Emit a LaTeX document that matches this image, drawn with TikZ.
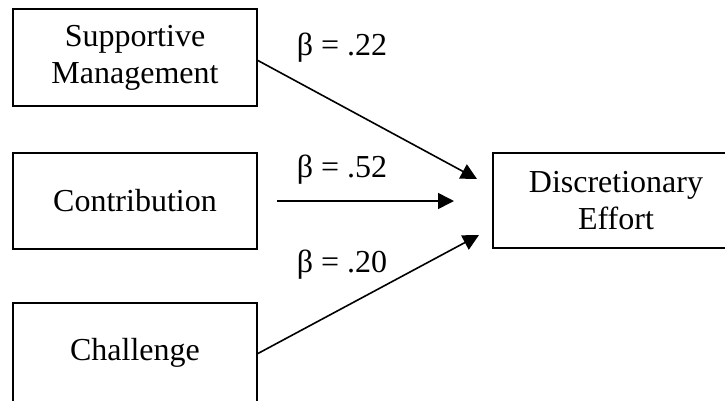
\documentclass[tikz,border=0pt]{standalone}
\usepackage{fontspec}
\setmainfont{Liberation Serif}
\usetikzlibrary{arrows.meta}
\begin{document}
\begin{tikzpicture}[x=1pt,y=-1pt,
  box/.style={draw=black,line width=1.8pt,rectangle,align=center,inner sep=0pt,
    font=\fontsize{32}{37}\selectfont},
  lbl/.style={font=\fontsize{32}{37}\selectfont,inner sep=0pt},
  conn/.style={line width=1.6pt,-{Triangle[length=16pt,width=16pt]}}]
\clip (0,0) rectangle (725,400);
\node[box,minimum width=244pt,minimum height=97pt] (b1) at (135,57.5) {Supportive\\Management};
\node[box,minimum width=244pt,minimum height=96pt] (b2) at (135,201) {Contribution};
\node[box,minimum width=244pt,minimum height=100pt] (b3) at (135,353) {Challenge};
\node[box,minimum width=246pt,minimum height=95pt] (b4) at (616,200.5) {Discretionary\\Effort};
\coordinate (s1) at (257,60);
\coordinate (t1) at (477,179);
\coordinate (s2) at (277,201);
\coordinate (t2) at (454,201);
\coordinate (s3) at (257,354);
\coordinate (t3) at (479,235);
\draw[conn] (s1) -- (t1);
\draw[conn] (s2) -- (t2);
\draw[conn] (s3) -- (t3);
\node[lbl] (l1) at (342,48) {β = .22};
\node[lbl] (l2) at (342,170) {β = .52};
\node[lbl] (l3) at (342,265) {β = .20};
\end{tikzpicture}
\end{document}
